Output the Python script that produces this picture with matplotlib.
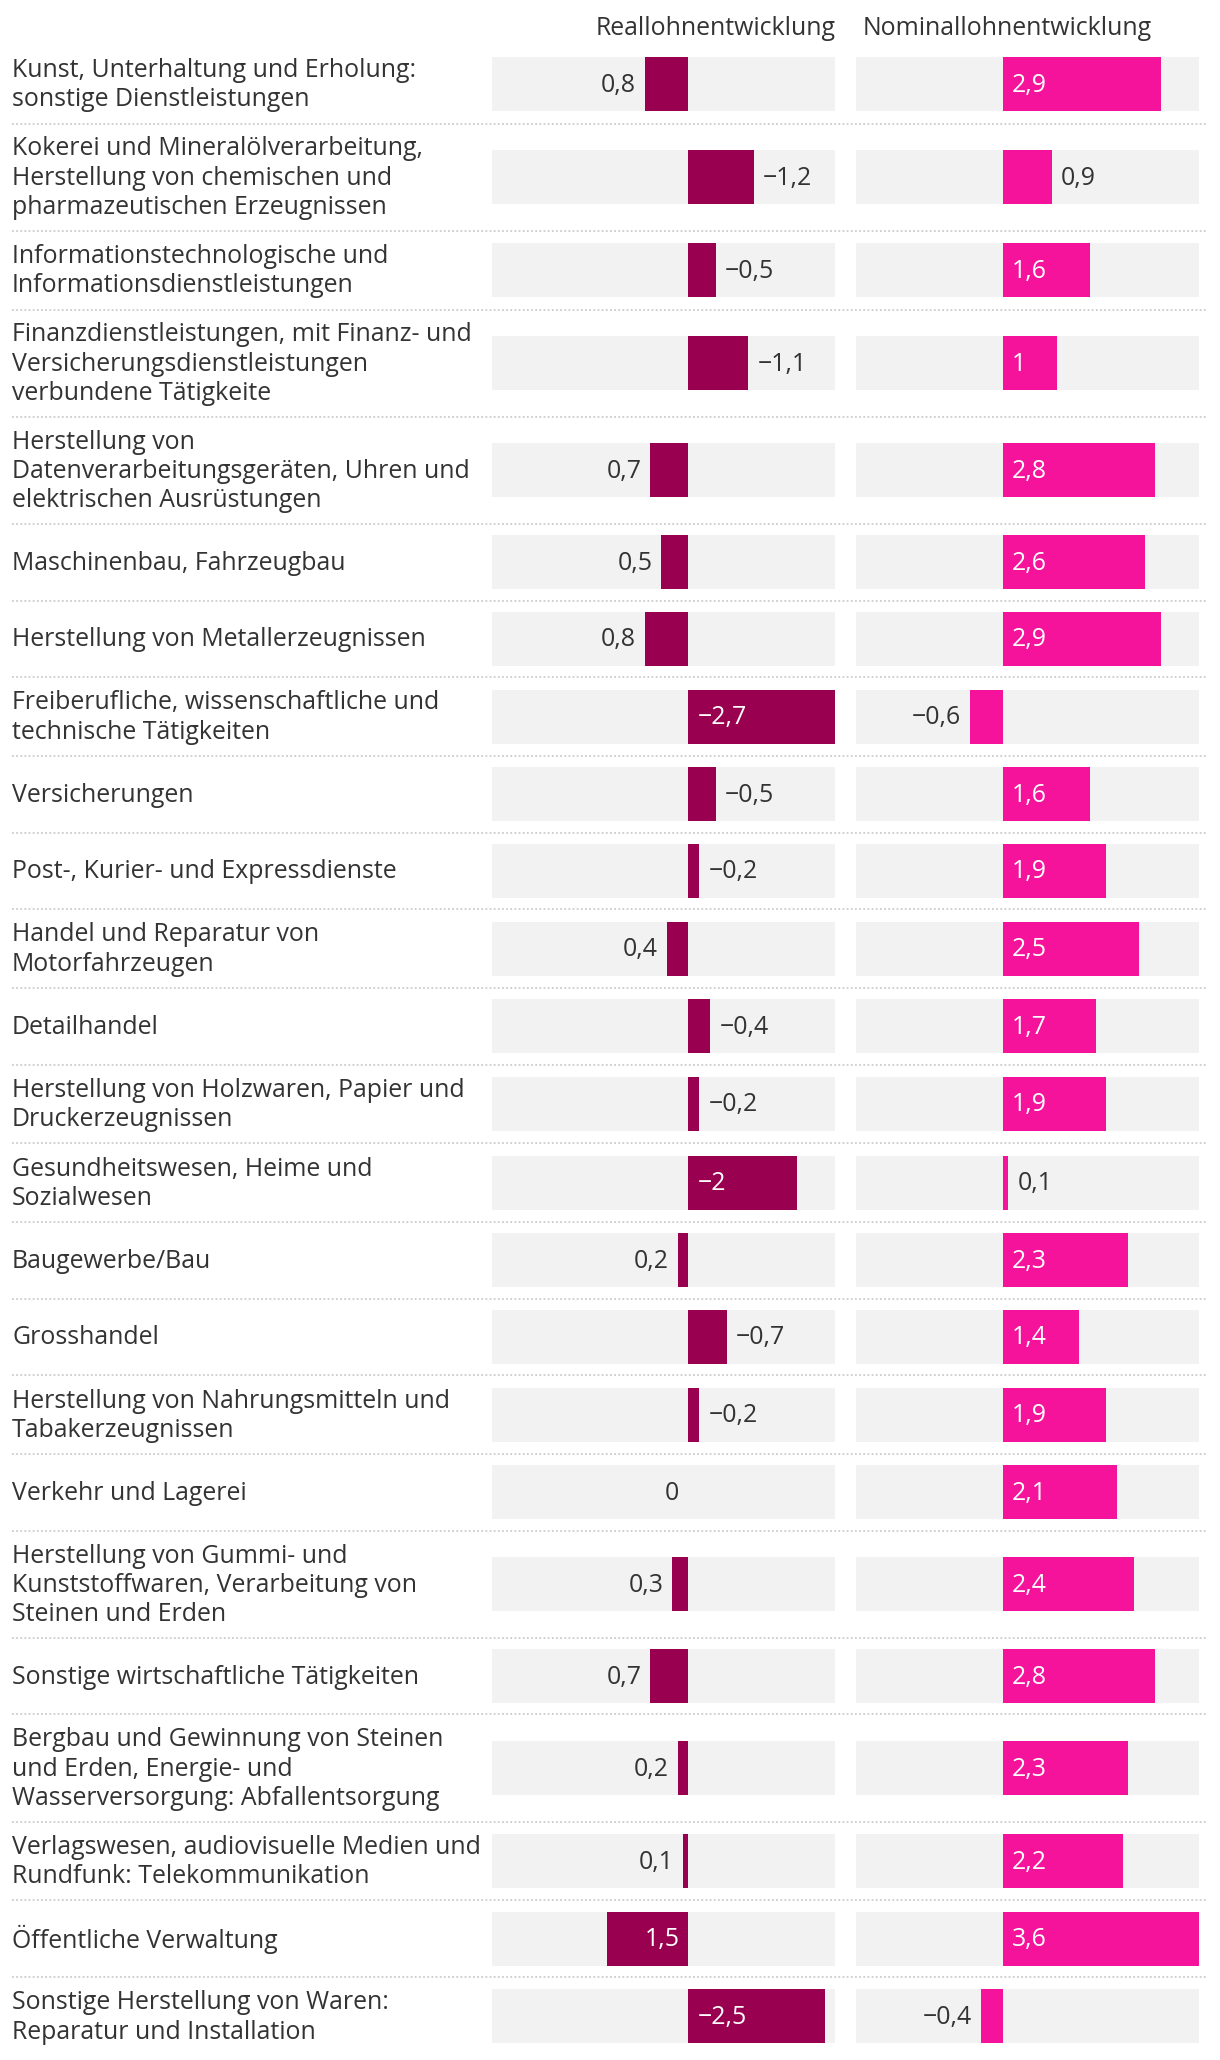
import matplotlib
matplotlib.use("Agg")
import matplotlib.pyplot as plt

plt.rcParams['font.family'] = ['Open Sans', 'DejaVu Sans']

# Branchen (Zeilenumbrüche wie im Original)
categories = [
    "Kunst, Unterhaltung und Erholung:\nsonstige Dienstleistungen",
    "Kokerei und Mineralölverarbeitung,\nHerstellung von chemischen und\npharmazeutischen Erzeugnissen",
    "Informationstechnologische und\nInformationsdienstleistungen",
    "Finanzdienstleistungen, mit Finanz- und\nVersicherungsdienstleistungen\nverbundene Tätigkeite",
    "Herstellung von\nDatenverarbeitungsgeräten, Uhren und\nelektrischen Ausrüstungen",
    "Maschinenbau, Fahrzeugbau",
    "Herstellung von Metallerzeugnissen",
    "Freiberufliche, wissenschaftliche und\ntechnische Tätigkeiten",
    "Versicherungen",
    "Post-, Kurier- und Expressdienste",
    "Handel und Reparatur von\nMotorfahrzeugen",
    "Detailhandel",
    "Herstellung von Holzwaren, Papier und\nDruckerzeugnissen",
    "Gesundheitswesen, Heime und\nSozialwesen",
    "Baugewerbe/Bau",
    "Grosshandel",
    "Herstellung von Nahrungsmitteln und\nTabakerzeugnissen",
    "Verkehr und Lagerei",
    "Herstellung von Gummi- und\nKunststoffwaren, Verarbeitung von\nSteinen und Erden",
    "Sonstige wirtschaftliche Tätigkeiten",
    "Bergbau und Gewinnung von Steinen\nund Erden, Energie- und\nWasserversorgung: Abfallentsorgung",
    "Verlagswesen, audiovisuelle Medien und\nRundfunk: Telekommunikation",
    "Öffentliche Verwaltung",
    "Sonstige Herstellung von Waren:\nReparatur und Installation",
]

real_values = [0.8, -1.2, -0.5, -1.1, 0.7, 0.5, 0.8, -2.7, -0.5, -0.2, 0.4, -0.4,
               -0.2, -2.0, 0.2, -0.7, -0.2, 0.0, 0.3, 0.7, 0.2, 0.1, 1.5, -2.5]
nominal_values = [2.9, 0.9, 1.6, 1.0, 2.8, 2.6, 2.9, -0.6, 1.6, 1.9, 2.5, 1.7,
                  1.9, 0.1, 2.3, 1.4, 1.9, 2.1, 2.4, 2.8, 2.3, 2.2, 3.6, -0.4]

headers = ["Reallohnentwicklung", "Nominallohnentwicklung"]

TEXT = '#333333'
C_REAL = '#990050'
C_NOM = '#f5139b'
BG = '#f2f2f2'
W, H = 1220, 2060
FS = 17.9


def fmt(v):
    s = f"{abs(v):g}".replace('.', ',')
    return ('\u2212' + s) if v < 0 else s


# Zeilenhöhen in Pixeln je nach Anzahl Textzeilen
row_h = {1: 76.6, 2: 78.8, 3: 107.2}
tops = []
y = 44.7
for c in categories:
    tops.append(y)
    y += row_h[c.count('\n') + 1]
bottoms = tops[1:] + [y]
centers = [(t + b) / 2 for t, b in zip(tops, bottoms)]
bar_h = 54

fig = plt.figure(figsize=(W / 100, H / 100), dpi=100)
ax0 = fig.add_axes([0, 0, 1, 1])
ax0.set_xlim(0, W)
ax0.set_ylim(H, 0)
ax0.axis('off')

ax_real = fig.add_axes([492.5 / W, 0, (835.5 - 492.5) / W, 1])
ax_real.set_xlim(3.6, -2.7)
ax_nom = fig.add_axes([856 / W, 0, (1199 - 856) / W, 1])
ax_nom.set_xlim(-2.7, 3.6)
for ax in (ax_real, ax_nom):
    ax.set_ylim(H, 0)
    ax.axis('off')
    ax.patch.set_alpha(0)

# Kategorien und Trennlinien
for i, c in enumerate(categories):
    ax0.text(12, centers[i] + 1, c, ha='left', va='center', fontsize=FS,
             color=TEXT, linespacing=1.22)
    if i < len(categories) - 1:
        ax0.plot([12, 1206], [bottoms[i], bottoms[i]], color='#cccccc',
                 lw=1.3, linestyle=(0, (1, 1.3)))

ax0.text(835.5, 35, headers[0], ha='right', va='baseline', fontsize=FS, color=TEXT)
ax0.text(863, 35, headers[1], ha='left', va='baseline', fontsize=FS, color=TEXT)


def draw_column(ax, values, color, inside_min, flipped):
    lo, hi = sorted(ax.get_xlim())
    ax.barh(centers, hi - lo, left=lo, height=bar_h, color=BG, zorder=1)
    ax.barh(centers, values, height=bar_h, color=color, zorder=2)
    pad = 9
    for yc, v in zip(centers, values):
        # Richtung des Balkens auf dem Bildschirm (+1 = nach rechts)
        d = 1 if v > 0 else -1
        if v == 0:
            d = 1
        if flipped:
            d = -d
        if abs(v) >= inside_min:
            ax.annotate(fmt(v), (0, yc), xytext=(d * pad, -1), textcoords='offset pixels',
                        ha='left' if d > 0 else 'right', va='center',
                        fontsize=FS, color='white', zorder=3)
        else:
            ax.annotate(fmt(v), (v, yc), xytext=(d * pad, -1), textcoords='offset pixels',
                        ha='left' if d > 0 else 'right', va='center',
                        fontsize=FS, color=TEXT, zorder=3)


draw_column(ax_real, real_values, C_REAL, 1.5, True)
draw_column(ax_nom, nominal_values, C_NOM, 1.0, False)

fig.savefig('out.png', dpi=100)
